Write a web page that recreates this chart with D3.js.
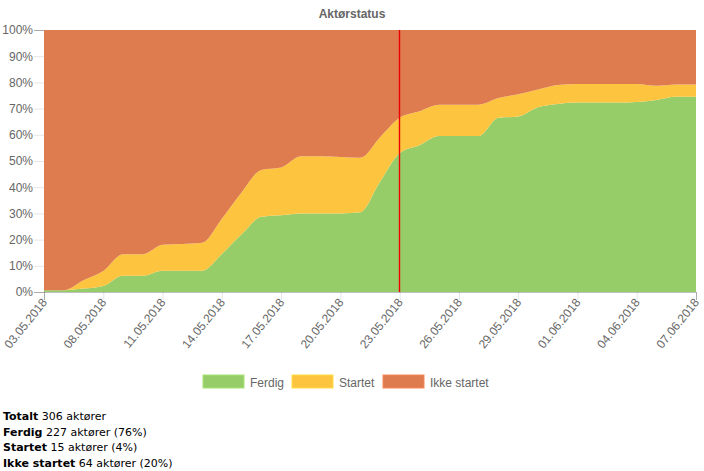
<!DOCTYPE html>
<html>
<head>
<meta charset="utf-8">
<script src="https://cdn.jsdelivr.net/npm/d3@7"></script>
<style>
  html, body { margin: 0; padding: 0; background: #fff; }
  #footer { position: absolute; left: 3px; top: 409px; font-family: "DejaVu Sans", Verdana, sans-serif; font-size: 11px; line-height: 15.5px; color: #000; }
</style>
</head>
<body>
<svg id="chart" width="704" height="400" style="position:absolute;left:0;top:0"></svg>
<div id="footer"></div>
<script>
const categories = ["03.05.2018","04.05.2018","07.05.2018","08.05.2018","09.05.2018","10.05.2018","11.05.2018",
  "12.05.2018","13.05.2018","14.05.2018","15.05.2018","16.05.2018","17.05.2018","18.05.2018","19.05.2018",
  "20.05.2018","21.05.2018","22.05.2018","23.05.2018","24.05.2018","25.05.2018","26.05.2018","27.05.2018",
  "28.05.2018","29.05.2018","30.05.2018","31.05.2018","01.06.2018","02.06.2018","03.06.2018","04.06.2018",
  "05.06.2018","06.06.2018","07.06.2018"];
const ferdig = [0.7,0.7,1.3,2.3,6.2,6.2,8.1,8.1,8.1,14.5,22.0,28.7,29.3,30.0,30.0,30.0,30.4,42.0,53.0,56.0,
  59.5,59.5,59.5,66.5,67.0,70.5,71.8,72.3,72.3,72.3,72.5,73.3,74.5,74.5];
const startet = [0,0,3.2,5.7,8.2,8.2,9.9,10.2,10.7,13.5,16.0,17.9,18.2,21.8,21.8,21.5,20.8,17.0,13.5,13.0,
  12.0,12.0,12.0,7.5,8.5,6.8,7.2,7.1,7.1,7.1,6.9,5.4,4.7,4.7];
const ikkeStartet = [99.3,99.3,95.5,92.0,85.6,85.6,82.0,81.7,81.2,72.0,62.0,53.4,52.5,48.2,48.2,48.5,48.8,41.0,
  33.5,31.0,28.5,28.5,28.5,26.0,24.5,22.7,21.0,20.6,20.6,20.6,20.6,21.3,20.8,20.8];
const seriesNames = ["Ferdig","Startet","Ikke startet"];
const seriesColors = ["#97cd69","#fdc53f","#de7b4f"];
const yTicks = [0,10,20,30,40,50,60,70,80,90,100];
const currentDate = "23.05.2018";
const title = "Aktørstatus";
const summary = [
  ["Totalt", "306 aktører"],
  ["Ferdig", "227 aktører (76%)"],
  ["Startet", "15 aktører (4%)"],
  ["Ikke startet", "64 aktører (20%)"]
];

const svg = d3.select("#chart");
const m = {left: 44, right: 8, top: 30, bottom: 108};
const W = 704, H = 400;
const x = d3.scalePoint().domain(categories).range([m.left, W - m.right]);
const y = d3.scaleLinear().domain([0, 100]).range([292, m.top]);

const rows = categories.map((c, i) => ({cat: c, "Ferdig": ferdig[i], "Startet": startet[i], "Ikke startet": ikkeStartet[i]}));
const stacked = d3.stack().keys(seriesNames)(rows);

// title
svg.append("text").attr("x", 352).attr("y", 18).attr("text-anchor", "middle")
  .attr("font-family", "Liberation Sans, Arial, sans-serif").attr("font-size", 12).attr("font-weight", "bold")
  .attr("fill", "#666").text(title);

// y axis
const yAxis = svg.append("g").attr("transform", `translate(${m.left},0)`)
  .call(d3.axisLeft(y).tickValues(yTicks).tickFormat(d => d + "%").tickSize(10).tickPadding(1));
yAxis.select(".domain").attr("stroke", "rgba(0,0,0,0.25)");
yAxis.selectAll(".tick line").attr("stroke", "rgba(0,0,0,0.1)");
yAxis.selectAll("text").attr("font-family", "Liberation Sans, Arial, sans-serif").attr("font-size", 12).attr("fill", "#666");

const area = d3.area().x((d, i) => x(categories[i])).y0(d => y(Math.min(100, d[0]))).y1(d => y(Math.min(100, d[1])))
  .curve(d3.curveMonotoneX);

svg.append("g").selectAll("path").data(stacked).join("path")
  .attr("d", area).attr("fill", (d, i) => seriesColors[i]);

// x axis
const xAxis = svg.append("g").attr("transform", `translate(0,292)`)
  .call(d3.axisBottom(x).tickValues(categories.filter((c, i) => i % 3 === 0)).tickSize(8).tickPadding(2));
xAxis.select(".domain").attr("stroke", "rgba(0,0,0,0.25)");
xAxis.selectAll(".tick line").attr("stroke", "rgba(0,0,0,0.1)");
xAxis.selectAll("text").attr("font-family", "Liberation Sans, Arial, sans-serif").attr("font-size", 12).attr("fill", "#666")
  .attr("text-anchor", "end").attr("dy", "0.35em")
  .attr("transform", "translate(0,8) rotate(-51)").attr("y", 0).attr("x", 0);

// current date line
const lx = Math.round(x(currentDate)) - 0.5;
svg.append("line").attr("x1", lx).attr("x2", lx).attr("y1", m.top).attr("y2", 292)
  .attr("stroke", "#ee0000").attr("stroke-width", 1.4);

// legend
const legX = [203, 292, 383];
const lg = svg.append("g");
seriesNames.forEach((n, i) => {
  lg.append("rect").attr("x", legX[i]).attr("y", 375).attr("width", 41).attr("height", 13)
    .attr("fill", seriesColors[i]).attr("stroke", d3.color(seriesColors[i]).brighter(0.3)).attr("stroke-width", 1);
  lg.append("text").attr("x", legX[i] + 47).attr("y", 386.5)
    .attr("font-family", "Liberation Sans, Arial, sans-serif").attr("font-size", 12).attr("fill", "#666").text(n);
});

// footer
const f = d3.select("#footer");
summary.forEach(s => {
  const dv = f.append("div");
  dv.append("b").text(s[0]);
  dv.append("span").text(" " + s[1]);
});
</script>
</body>
</html>
